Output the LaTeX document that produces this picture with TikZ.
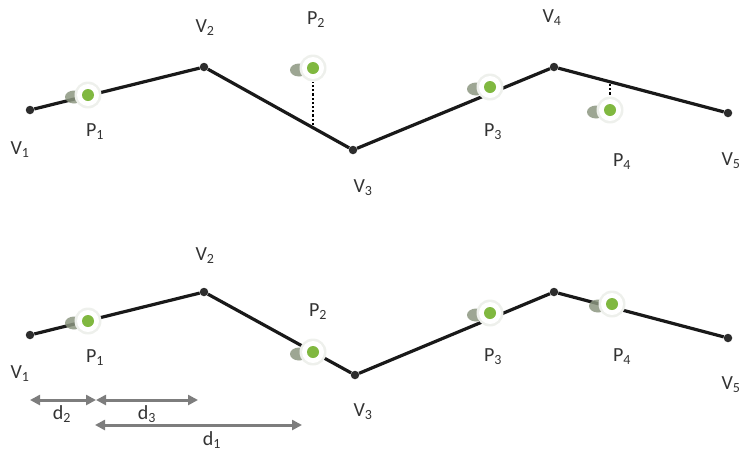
\documentclass[tikz,border=0pt]{standalone}
\usepackage{fontspec}
\setmainfont{Carlito}
\usetikzlibrary{arrows.meta}
\definecolor{ptgreen}{RGB}{128,184,64}
\definecolor{trail}{RGB}{140,150,128}
\definecolor{halo}{RGB}{238,240,236}
\definecolor{arrgray}{RGB}{125,125,125}
\definecolor{vdark}{RGB}{45,45,45}
\tikzset{
  vtx/.style={circle,fill=vdark,inner sep=0pt,minimum size=8.5pt},
  poly/.style={line width=3.2pt,draw=black!90},
  lbl/.style={font=\fontsize{20}{20}\selectfont,text=black!80,inner sep=0pt},
  dim/.style={arrgray,line width=3pt,{Triangle[length=10pt,width=10pt]}-{Triangle[length=10pt,width=10pt]}},
  dots/.style={line width=2.2pt,dotted,black},
  pt/.pic={
    \fill[trail,opacity=0.85] (-14,2) ellipse (9pt and 6.5pt);
    \fill[halo] (0,0) circle (13.5pt);
    \fill[white] (0,0) circle (11pt);
    \fill[ptgreen] (0,0) circle (6pt);
  }
}
\begin{document}
\begin{tikzpicture}[x=1pt,y=-1pt]
\useasboundingbox (0,0) rectangle (744,456);
% ---------- top ----------
\node[vtx] (a1) at (30,110) {};
\node[vtx] (a2) at (204,67) {};
\node[vtx] (a3) at (353,150) {};
\node[vtx] (a4) at (554,67) {};
\node[vtx] (a5) at (728,113) {};
\draw[poly] (a1) -- (a2) -- (a3) -- (a4) -- (a5);
\coordinate (f2) at (313,125);
\coordinate (f4) at (610,84);
\coordinate (p2) at (313,68);
\coordinate (p4) at (610,110);
\draw[dots] (f2) -- (313,82);
\draw[dots] (f4) -- (610,96);
\pic at (88,95) {pt};
\pic at (p2) {pt};
\pic at (490,87) {pt};
\pic at (p4) {pt};
\node[lbl] (tv1) at (20,150) {V\textsubscript{1}};
\node[lbl] (tp1) at (95,132) {P\textsubscript{1}};
\node[lbl] (tv2) at (205,28) {V\textsubscript{2}};
\node[lbl] (tp2) at (316,20) {P\textsubscript{2}};
\node[lbl] (tv3) at (363,188) {V\textsubscript{3}};
\node[lbl] (tv4) at (552,18) {V\textsubscript{4}};
\node[lbl] (tp3) at (493,132) {P\textsubscript{3}};
\node[lbl] (tp4) at (622,162) {P\textsubscript{4}};
\node[lbl] (tv5) at (731,161) {V\textsubscript{5}};
% ---------- bottom ----------
\node[vtx] (b1) at (30,335) {};
\node[vtx] (b2) at (204,292) {};
\node[vtx] (b3) at (355,375) {};
\node[vtx] (b4) at (554,292) {};
\node[vtx] (b5) at (728,338) {};
\draw[poly] (b1) -- (b2) -- (b3) -- (b4) -- (b5);
\pic at (88,321) {pt};
\pic at (313,352) {pt};
\pic at (490,313) {pt};
\pic at (612,304) {pt};
\node[lbl] (bv1) at (20,374) {V\textsubscript{1}};
\node[lbl] (bp1) at (95,358) {P\textsubscript{1}};
\node[lbl] (bv2) at (205,256) {V\textsubscript{2}};
\node[lbl] (bp2) at (318,312) {P\textsubscript{2}};
\node[lbl] (bv3) at (363,412) {V\textsubscript{3}};
\node[lbl] (bp3) at (493,357) {P\textsubscript{3}};
\node[lbl] (bp4) at (622,357) {P\textsubscript{4}};
\node[lbl] (bv5) at (731,385) {V\textsubscript{5}};
% ---------- distances ----------
\coordinate (d2a) at (30,400);
\coordinate (d2b) at (96,400);
\coordinate (d3b) at (198,400);
\coordinate (d1a) at (95,425);
\coordinate (d1b) at (302,425);
\draw[dim] (d2a) -- (d2b);
\draw[dim] (d2b) -- (d3b);
\draw[dim] (d1a) -- (d1b);
\node[lbl] (ld2) at (62,414) {d\textsubscript{2}};
\node[lbl] (ld3) at (147,414) {d\textsubscript{3}};
\node[lbl] (ld1) at (212,440) {d\textsubscript{1}};
\end{tikzpicture}
\end{document}
